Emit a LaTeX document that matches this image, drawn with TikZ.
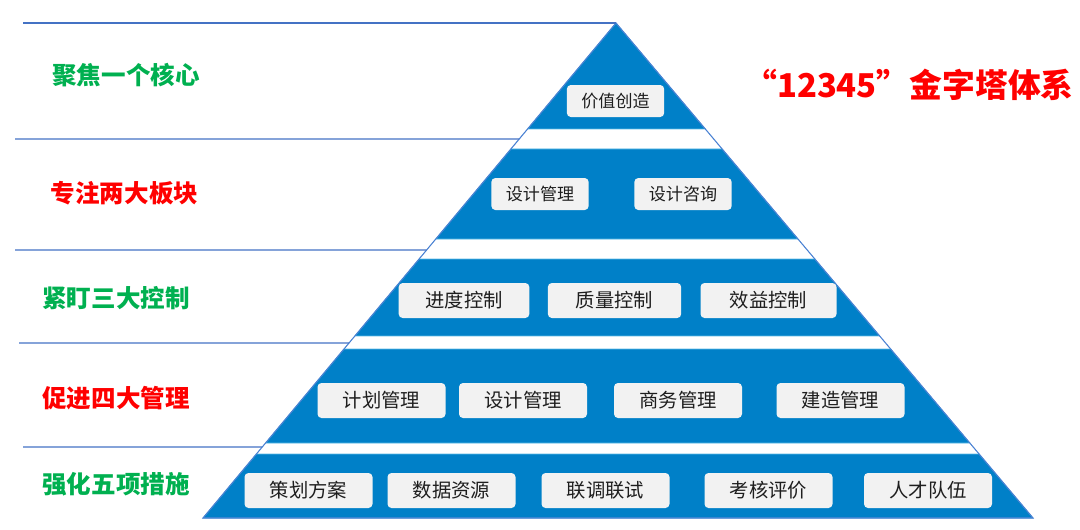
\documentclass[tikz,border=0pt]{standalone}
\usepackage{fontspec}
\setmainfont{Noto Sans CJK SC}
\usetikzlibrary{calc}
\definecolor{bandblue}{RGB}{0,128,200}
\definecolor{bandedge}{RGB}{90,185,230}
\definecolor{rulecol}{RGB}{68,114,196}
\definecolor{outlinecol}{RGB}{72,128,210}
\definecolor{boxfill}{RGB}{242,242,242}
\definecolor{boxtext}{RGB}{30,30,30}
\definecolor{lblgreen}{RGB}{0,176,80}
\definecolor{lblred}{RGB}{255,0,0}
\tikzset{
  band/.style={fill=bandblue, draw=bandedge, line width=0.5pt},
  rulel/.style={draw=rulecol, line width=1pt},
  outl/.style={draw=outlinecol, line width=0.8pt},
  itembox/.style={fill=boxfill, rounded corners=3pt, text=boxtext, inner sep=0pt, minimum height=26.25pt, minimum width=96pt, font=\fontsize{14.5pt}{16pt}\selectfont},
  smallbox/.style={itembox, minimum height=24pt, minimum width=73pt, font=\fontsize{12.8pt}{14pt}\selectfont},
  lbl/.style={font=\fontsize{18.4pt}{20pt}\selectfont\bfseries, inner sep=0pt},
  titlestyle/.style={font=\fontsize{24.6pt}{27pt}\selectfont\bfseries, text=lblred, inner sep=0pt}
}
\begin{document}
\begin{tikzpicture}[x=0.75pt,y=-0.75pt]
\useasboundingbox (0,0) rectangle (1080,529);
\coordinate (A) at (616,23);
\coordinate (L) at (203,518);
\coordinate (R) at (1033,518);
% bands
\fill[band] (A) -- ($(A)!0.2141!(R)$) -- ($(A)!0.2141!(L)$) -- cycle;
\filldraw[band] ($(A)!0.2545!(L)$) -- ($(A)!0.2545!(R)$) -- ($(A)!0.4364!(R)$) -- ($(A)!0.4364!(L)$) -- cycle;
\filldraw[band] ($(A)!0.4768!(L)$) -- ($(A)!0.4768!(R)$) -- ($(A)!0.6323!(R)$) -- ($(A)!0.6323!(L)$) -- cycle;
\filldraw[band] ($(A)!0.6586!(L)$) -- ($(A)!0.6586!(R)$) -- ($(A)!0.8485!(R)$) -- ($(A)!0.8485!(L)$) -- cycle;
\filldraw[band] ($(A)!0.8707!(L)$) -- ($(A)!0.8707!(R)$) -- (R) -- (L) -- cycle;
% outline
\draw[outl] (L) -- (A) -- (R) -- cycle;
% horizontal rules
\coordinate (r0) at (23,23);
\coordinate (r1) at (15,139);
\coordinate (r2) at (15,250);
\coordinate (r3) at (19,343);
\coordinate (r4) at (23,447);
\coordinate (e1) at ($(A)!0.2343!(L)$);
\coordinate (e2) at ($(A)!0.4586!(L)$);
\coordinate (e3) at ($(A)!0.6465!(L)$);
\coordinate (e4) at ($(A)!0.8566!(L)$);
\draw[rulel] (r0) -- (A);
\draw[rulel] (r1) -- (e1);
\draw[rulel] (r2) -- (e2);
\draw[rulel] (r3) -- (e3);
\draw[rulel] (r4) -- (e4);
% left labels
\node[lbl, text=lblgreen] (l1) at (126,75) {聚焦一个核心};
\node[lbl, text=lblred] (l2) at (124.5,193) {专注两大板块};
\node[lbl, text=lblgreen] (l3) at (116,298.5) {紧盯三大控制};
\node[lbl, text=lblred] (l4) at (116,398) {促进四大管理};
\node[lbl, text=lblgreen] (l5) at (116,484) {强化五项措施};
% title
\node[titlestyle, anchor=east] (title) at (1074,85) {“12345”金字塔体系};
% band 1
\node[smallbox] (b11) at (615.5,101) {价值创造};
% band 2
\node[smallbox] (b21) at (540,194) {设计管理};
\node[smallbox] (b22) at (683,194) {设计咨询};
% band 3
\node[itembox, minimum width=98pt] (b31) at (464,300.5) {进度控制};
\node[itembox, minimum width=100pt] (b32) at (614.5,300.5) {质量控制};
\node[itembox, minimum width=102pt] (b33) at (768.5,300.5) {效益控制};
% band 4
\node[itembox] (b41) at (381.5,400.5) {计划管理};
\node[itembox] (b42) at (523,400.5) {设计管理};
\node[itembox] (b43) at (678,400.5) {商务管理};
\node[itembox] (b44) at (840.5,400.5) {建造管理};
% band 5
\node[itembox] (b51) at (308.5,490.5) {策划方案};
\node[itembox] (b52) at (451.5,490.5) {数据资源};
\node[itembox] (b53) at (605.5,490.5) {联调联试};
\node[itembox] (b54) at (768.5,490.5) {考核评价};
\node[itembox] (b55) at (928,490.5) {人才队伍};
\end{tikzpicture}
\end{document}
